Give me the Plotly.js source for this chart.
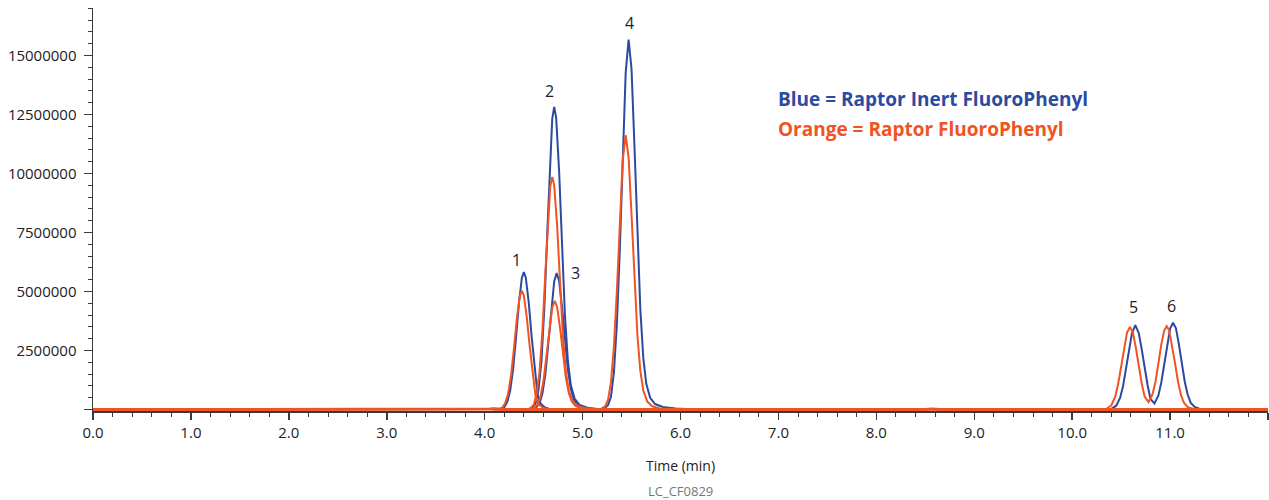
<!DOCTYPE html>
<html>
<head>
<meta charset="utf-8">
<script src="https://cdn.plot.ly/plotly-3.0.1.min.js"></script>
<style>html,body{margin:0;padding:0;background:#fff;}#chart{width:1269px;height:500px;}</style>
</head>
<body>
<div id="chart"></div>
<script>
// ---- Data (time in min, intensity in counts) ----
var baseT = [0, 4.0, 4.05, 4.1, 4.15, 4.2, 6.0, 6.1, 6.2, 8.5, 8.57, 8.65, 12];
var baseBlueY = [0, 0, 20000, 40000, 20000, 0, 0, 15000, 0, 0, 25000, 0, 0];
var baseOrangeY = [0, 0, 20000, 40000, 20000, 0, 0, 15000, 0, 0, 20000, 0, 0];

var blueP1T = [4.10, 4.16, 4.20, 4.23, 4.26, 4.29, 4.32, 4.35, 4.38, 4.40, 4.42, 4.45, 4.48, 4.51, 4.54, 4.57, 4.61, 4.66, 4.75];
var blueP1Y = [0, 17000, 99000, 320000, 786000, 1690000, 3030000, 4510000, 5590000, 5820000, 5590000, 4540000, 3080000, 1750000, 640000, 262000, 105000, 23000, 0];

var blueP2T = [4.40, 4.48, 4.52, 4.55, 4.58, 4.61, 4.64, 4.67, 4.69, 4.71, 4.73, 4.76, 4.79, 4.82, 4.85, 4.88, 4.92, 4.97, 5.05, 5.15, 5.30];
var blueP2Y = [0, 51000, 256000, 833000, 2050000, 4360000, 7560000, 10770000, 12310000, 12820000, 12370000, 10130000, 6790000, 3970000, 2050000, 1030000, 449000, 192000, 77000, 26000, 0];

var blueP3T = [4.45, 4.52, 4.56, 4.59, 4.62, 4.65, 4.68, 4.71, 4.735, 4.76, 4.79, 4.82, 4.85, 4.88, 4.91, 4.95, 5.00, 5.08, 5.20];
var blueP3Y = [0, 58000, 260000, 694000, 1500000, 2720000, 4220000, 5430000, 5780000, 5460000, 4340000, 2890000, 1680000, 867000, 434000, 185000, 81000, 29000, 0];

var blueP4T = [5.15, 5.22, 5.26, 5.29, 5.32, 5.35, 5.38, 5.41, 5.44, 5.47, 5.50, 5.53, 5.56, 5.59, 5.62, 5.65, 5.69, 5.74, 5.82, 5.95, 6.10, 6.30];
var blueP4Y = [0, 47000, 188000, 548000, 1570000, 3600000, 6740000, 10660000, 14260000, 15670000, 14420000, 11130000, 7360000, 4230000, 2190000, 1100000, 501000, 235000, 110000, 47000, 16000, 0];

var blueP56T = [10.30, 10.40, 10.45, 10.49, 10.52, 10.55, 10.58, 10.61, 10.645, 10.68, 10.71, 10.74, 10.77, 10.80, 10.84, 10.88, 10.91, 10.94, 10.97, 11.00, 11.03, 11.06, 11.09, 11.12, 11.15, 11.18, 11.21, 11.25, 11.30, 11.38, 11.50];
var blueP56Y = [0, 29000, 165000, 501000, 1000000, 1720000, 2510000, 3220000, 3580000, 3240000, 2560000, 1750000, 1040000, 450000, 260000, 590000, 1140000, 1910000, 2720000, 3420000, 3680000, 3440000, 2760000, 1950000, 1180000, 626000, 294000, 110000, 37000, 11000, 0];

var orangeP1T = [4.08, 4.14, 4.18, 4.21, 4.24, 4.27, 4.30, 4.33, 4.36, 4.38, 4.40, 4.43, 4.46, 4.49, 4.52, 4.55, 4.59, 4.64, 4.73];
var orangeP1Y = [0, 15000, 86000, 277000, 679000, 1460000, 2620000, 3900000, 4830000, 5030000, 4830000, 3920000, 2670000, 1510000, 553000, 226000, 91000, 20000, 0];

var orangeP2T = [4.38, 4.46, 4.50, 4.53, 4.56, 4.59, 4.62, 4.65, 4.67, 4.69, 4.71, 4.74, 4.77, 4.80, 4.83, 4.86, 4.90, 4.95, 5.03, 5.13, 5.28];
var orangeP2Y = [0, 39000, 197000, 640000, 1580000, 3350000, 5810000, 8270000, 9460000, 9850000, 9510000, 7780000, 5220000, 3050000, 1580000, 788000, 345000, 148000, 59000, 20000, 0];

var orangeP3T = [4.43, 4.50, 4.54, 4.57, 4.60, 4.63, 4.66, 4.69, 4.715, 4.74, 4.77, 4.80, 4.83, 4.86, 4.89, 4.93, 4.98, 5.06, 5.18];
var orangeP3Y = [0, 46000, 207000, 552000, 1200000, 2160000, 3360000, 4320000, 4600000, 4350000, 3450000, 2300000, 1330000, 690000, 345000, 147000, 64000, 23000, 0];

var orangeP4T = [5.12, 5.19, 5.23, 5.26, 5.29, 5.32, 5.35, 5.38, 5.41, 5.44, 5.47, 5.50, 5.53, 5.56, 5.59, 5.62, 5.66, 5.71, 5.79, 5.92, 6.05];
var orangeP4Y = [0, 35000, 139000, 407000, 1160000, 2670000, 5000000, 7900000, 10570000, 11620000, 10690000, 8250000, 5460000, 3140000, 1630000, 813000, 349000, 139000, 46000, 12000, 0];

var orangeP56T = [10.25, 10.35, 10.40, 10.44, 10.47, 10.50, 10.53, 10.56, 10.59, 10.62, 10.65, 10.68, 10.71, 10.74, 10.78, 10.82, 10.85, 10.88, 10.91, 10.94, 10.965, 10.99, 11.02, 11.05, 11.08, 11.11, 11.14, 11.18, 11.23, 11.31, 11.43];
var orangeP56Y = [0, 32000, 175000, 560000, 1090000, 1820000, 2590000, 3260000, 3500000, 3270000, 2630000, 1860000, 1120000, 550000, 320000, 640000, 1160000, 1940000, 2750000, 3350000, 3530000, 3370000, 2750000, 1980000, 1200000, 635000, 300000, 106000, 35000, 11000, 0];

var peakLabels = ['1', '2', '3', '4', '5', '6'];
var peakLabelX = [4.324, 4.66, 4.93, 5.478, 10.63, 11.015];
var peakLabelY = [6330000, 13490000, 5780000, 16380000, 4340000, 4380000];

var xTickVals = [0, 1, 2, 3, 4, 5, 6, 7, 8, 9, 10, 11, 12];
var xTickText = ['0.0', '1.0', '2.0', '3.0', '4.0', '5.0', '6.0', '7.0', '8.0', '9.0', '10.0', '11.0', ''];
var yTickVals = [0, 2500000, 5000000, 7500000, 10000000, 12500000, 15000000];
var yTickText = ['', '2500000', '5000000', '7500000', '10000000', '12500000', '15000000'];

var legendBlue = 'Blue = Raptor Inert FluoroPhenyl';
var legendOrange = 'Orange = Raptor FluoroPhenyl';
var codeLabel = 'LC_CF0829';

// ---- Styling ----
var BLUE = '#2c4a9f';
var ORANGE = '#f25322';
var AXIS = '#3a3a3a';
var FONT = 'Open Sans, Noto Sans, sans-serif';

function tr(x, y, color, w) {
  return {x: x, y: y, type: 'scatter', mode: 'lines', hoverinfo: 'skip',
          line: {color: color, width: w, shape: 'linear'}, showlegend: false};
}

var data = [
  tr(baseT, baseBlueY, BLUE, 2),
  tr(blueP1T, blueP1Y, BLUE, 2),
  tr(blueP2T, blueP2Y, BLUE, 2),
  tr(blueP3T, blueP3Y, BLUE, 2),
  tr(blueP4T, blueP4Y, BLUE, 2),
  tr(blueP56T, blueP56Y, BLUE, 2),
  tr(orangeP1T, orangeP1Y, ORANGE, 2),
  tr(orangeP2T, orangeP2Y, ORANGE, 2),
  tr(orangeP3T, orangeP3Y, ORANGE, 2),
  tr(orangeP4T, orangeP4Y, ORANGE, 2),
  tr(orangeP56T, orangeP56Y, ORANGE, 2),
  tr(baseT, baseOrangeY, ORANGE, 3)
];

var annotations = [];
for (var i = 0; i < peakLabels.length; i++) {
  annotations.push({x: peakLabelX[i], y: peakLabelY[i], xref: 'x', yref: 'y', text: peakLabels[i],
    showarrow: false, xanchor: 'center', yanchor: 'middle',
    font: {family: FONT, size: 16, color: '#222'}});
}
annotations.push({x: 6.98, y: 13160000, xref: 'x', yref: 'y', text: legendBlue, showarrow: false,
  xanchor: 'left', yanchor: 'middle', font: {family: FONT, size: 19, color: BLUE, weight: 700}});
annotations.push({x: 6.98, y: 11880000, xref: 'x', yref: 'y', text: legendOrange, showarrow: false,
  xanchor: 'left', yanchor: 'middle', font: {family: FONT, size: 19, color: ORANGE, weight: 700}});
annotations.push({x: 0.5, y: -0.1994, xref: 'paper', yref: 'paper', text: codeLabel, showarrow: false,
  xanchor: 'center', yanchor: 'middle', font: {family: FONT, size: 13, color: '#777'}});

var layout = {
  width: 1269, height: 500,
  margin: {l: 93, r: 1, t: 8, b: 89, pad: 0},
  paper_bgcolor: '#fff', plot_bgcolor: '#fff',
  showlegend: false,
  font: {family: FONT, color: '#222'},
  xaxis: {
    range: [0, 12], showgrid: false, zeroline: false, showline: true,
    linecolor: AXIS, linewidth: 1.5, ticks: 'outside', ticklen: 7, tickwidth: 1.5, tickcolor: AXIS,
    tickmode: 'array', tickvals: xTickVals, ticktext: xTickText,
    minor: {tickmode: 'linear', tick0: 0, dtick: 0.2, ticks: 'outside', ticklen: 4, tickwidth: 1, tickcolor: AXIS},
    tickfont: {family: FONT, size: 15, color: '#222'},
    title: {text: 'Time (min)', font: {family: FONT, size: 14, color: '#222'}, standoff: 20}
  },
  yaxis: {
    range: [-60000, 17010000], showgrid: false, zeroline: false, showline: true,
    linecolor: AXIS, linewidth: 1.5, ticks: 'outside', ticklen: 8, tickwidth: 1.5, tickcolor: AXIS,
    tickmode: 'array', tickvals: yTickVals, ticktext: yTickText, ticklabelstandoff: 4,
    minor: {tickmode: 'linear', tick0: 0, dtick: 500000, ticks: 'outside', ticklen: 4, tickwidth: 1, tickcolor: AXIS},
    tickfont: {family: FONT, size: 15, color: '#222'}
  },
  annotations: annotations
};

Plotly.newPlot('chart', data, layout, {staticPlot: true, displayModeBar: false});
</script>
</body>
</html>
